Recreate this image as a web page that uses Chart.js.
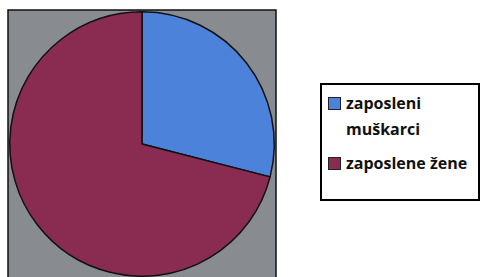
<!DOCTYPE html>
<html>
<head>
<meta charset="utf-8">
<script src="https://cdn.jsdelivr.net/npm/chart.js@4/dist/chart.umd.min.js"></script>
<style>
  html, body { margin: 0; padding: 0; background: #ffffff; overflow: hidden; width: 483px; height: 277px; }
  #wrap { position: absolute; left: 0; top: 0; width: 483px; height: 292px; }
  #legend {
    position: absolute; left: 320px; top: 83px; width: 156px; height: 114px;
    border: 2px solid #000; background: #fff; box-sizing: content-box;
    font-family: "Open Sans", "Liberation Sans", Arial, sans-serif; font-weight: bold; font-size: 16px; color: #111;
  }
  .item { position: absolute; left: 6px; line-height: 24px; }
  .sw { position: absolute; left: 0; width: 13px; height: 13px; border: 1.5px solid #222; box-sizing: border-box; }
  .txt { position: absolute; left: 18px; white-space: nowrap; }
</style>
</head>
<body>
<div id="wrap"><canvas id="c"></canvas></div>
<div id="legend"></div>
<script>
const categories = ["zaposleni muškarci", "zaposlene žene"];
const legendLines = [["zaposleni", "muškarci"], ["zaposlene žene"]];
const values = [29, 71];
const colors = ["#4d82db", "#8a2b52"];

const bgPlugin = {
  id: 'bgSquare',
  beforeDraw(chart) {
    const a = chart.chartArea, ctx = chart.ctx;
    ctx.save();
    ctx.fillStyle = '#888b8f';
    ctx.fillRect(a.left - 1, a.top - 1, a.right - a.left + 2, a.bottom - a.top + 20);
    ctx.strokeStyle = '#111';
    ctx.lineWidth = 1.5;
    ctx.strokeRect(a.left - 1, a.top - 1, a.right - a.left + 2, a.bottom - a.top + 20);
    ctx.restore();
  }
};

new Chart(document.getElementById('c'), {
  type: 'pie',
  data: {
    labels: categories,
    datasets: [{
      data: values,
      backgroundColor: colors,
      borderColor: '#111',
      borderWidth: 1.5
    }]
  },
  options: {
    responsive: true,
    maintainAspectRatio: false,
    animation: false,
    layout: { padding: { left: 9, top: 11, right: 208, bottom: 15 } },
    plugins: { legend: { display: false }, tooltip: { enabled: false } }
  },
  plugins: [bgPlugin]
});

// HTML legend built from the data arrays
const leg = document.getElementById('legend');
const tops = [6, 66];
legendLines.forEach((lines, i) => {
  const it = document.createElement('div');
  it.className = 'item';
  it.style.top = tops[i] + 'px';
  const sw = document.createElement('div');
  sw.className = 'sw';
  sw.style.top = '6px';
  sw.style.background = colors[i];
  it.appendChild(sw);
  lines.forEach((ln, j) => {
    const t = document.createElement('div');
    t.className = 'txt';
    t.style.top = (j * 26) + 'px';
    t.textContent = ln;
    it.appendChild(t);
  });
  leg.appendChild(it);
});
</script>
</body>
</html>
